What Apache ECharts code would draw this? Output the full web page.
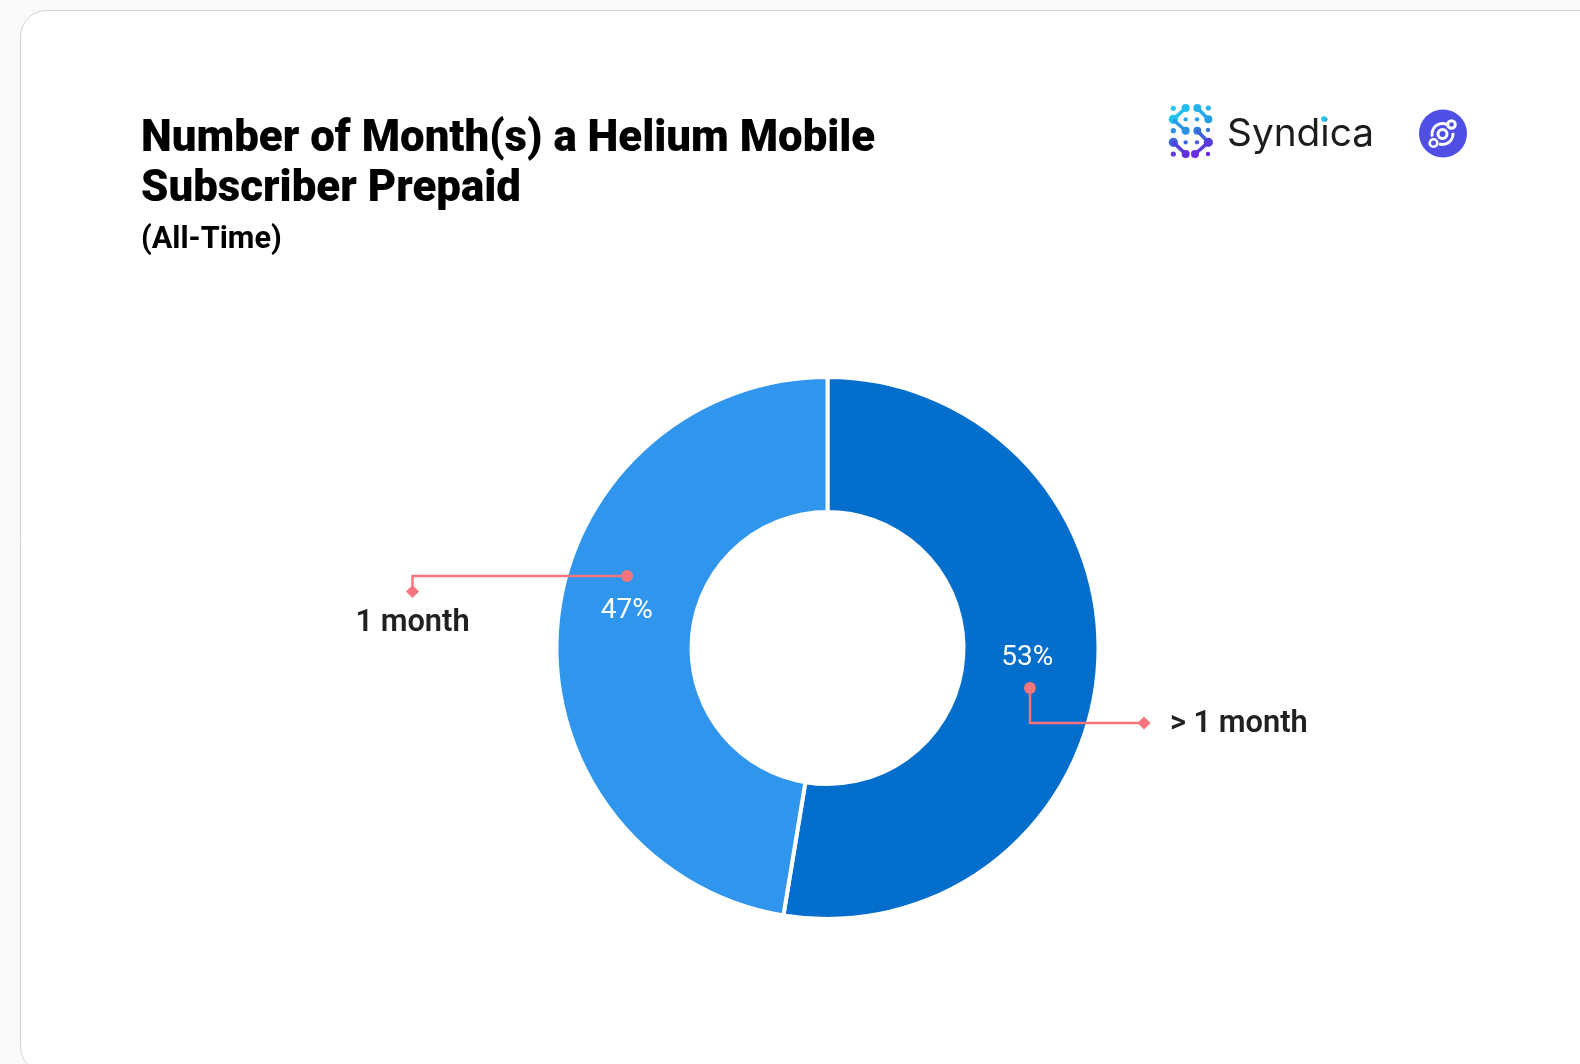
<!DOCTYPE html>
<html><head><meta charset="utf-8">
<style>html,body{margin:0;padding:0;background:#fafafa}#c{width:1580px;height:1064px}</style>
<script src="https://cdn.jsdelivr.net/npm/echarts@6/dist/echarts.min.js"></script>
</head><body><div id="c"></div>
<script>
var categories = ['> 1 month', '1 month'];
var values = [52.6, 47.4];
var percentLabels = ['53%', '47%'];
var colors = ['#036ECB', '#3095EC'];
var F = 'Roboto';
var RED = '#F6757C';
var chart = echarts.init(document.getElementById('c'), null, {renderer:'canvas'});

function lx(z){return 1140+z/3;} function ly(z){return 90+z/3;}
function dot(x,y,r,c){return {type:'circle',shape:{cx:lx(x),cy:ly(y),r:r},style:{fill:c}};}
function seg(pts,c,w){return {type:'polyline',shape:{points:pts.map(function(p){return [lx(p[0]),ly(p[1])];})},style:{stroke:c,lineWidth:w,fill:null,lineCap:'round',lineJoin:'round'}};}
var logo = [
 dot(100,55,2.6,'#29C9F2'),dot(137,54,4,'#22BDF0'),dot(172,54,4,'#22B5EE'),dot(205,54,2.6,'#28B5EE'),
 seg([[137,54],[100,88]],'#22BFF0',3.6), seg([[172,54],[205,88]],'#24ABEC',3.6),
 dot(100,88,4.6,'#1FC0F0'),dot(137,88,2.2,'#2AA5EA'),dot(171,88,2.2,'#2A9EE8'),dot(205,88,4,'#249FE8'),
 dot(100,122,2.6,'#2B90E6'),seg([[137,122],[103,92]],'#2A9AE8',3.4),dot(137,122,4,'#2B92E6'),
 dot(172,122,4,'#2F80E2'),seg([[172,122],[205,157]],'#3F62DC',3.6),dot(204,120,2.2,'#3378E0'),
 dot(100,157,4.6,'#3C68DE'),seg([[100,157],[137,192]],'#5040DC',3.6),dot(137,157,2.2,'#4266DC'),dot(171,157,2.2,'#4A5EDC'),
 dot(205,157,4.6,'#5540DC'),seg([[205,157],[165,192]],'#5F38DE',3.6),
 dot(100,192,2.6,'#5F38DE'),dot(137,192,4,'#6030DE'),dot(165,192,4,'#6A2EE0'),dot(204,192,2.2,'#6A2CE0')
];

function ring(x,y,r,w){return {type:'circle',shape:{cx:x,cy:y,r:r},style:{fill:'rgba(0,0,0,0)',stroke:'#fff',lineWidth:w}};}

var graphic = [
 {type:'rect',z:-10,shape:{x:20.5,y:10.5,width:1700,height:1062,r:26},style:{fill:'#fff',stroke:'#d2d2d2',lineWidth:1}},
 {type:'text',style:{x:141,y:140,text:'Number of Month(s) a Helium Mobile',font:'900 43.8px '+F,fill:'#000',textVerticalAlign:'middle'}},
 {type:'text',style:{x:141,y:190,text:'Subscriber Prepaid',font:'900 43.8px '+F,fill:'#000',textVerticalAlign:'middle'}},
 {type:'text',style:{x:141,y:240,text:'(All-Time)',font:'700 30.7px '+F,fill:'#000',textVerticalAlign:'middle'}},
 {type:'text',style:{x:1227,y:134,text:'Syndica',font:'400 38.8px Inter',fill:'#1c1c1e',textVerticalAlign:'middle'}},
 {type:'circle',shape:{cx:1324,cy:119,r:2.8},style:{fill:'#22C3EE'}},
 {type:'circle',shape:{cx:1443,cy:133.5,r:24},style:{fill:'#4F4FE6'}},
 ring(1442.5,134,4.5,3), ring(1451.5,124.5,3.8,3), ring(1433.5,143,3.8,2.6),
 {type:'arc',shape:{cx:1442.5,cy:134,r:10.5,startAngle:-3.4,endAngle:-1.1},style:{stroke:'#fff',lineWidth:2.8,fill:null}},
 {type:'arc',shape:{cx:1442.5,cy:134,r:10.5,startAngle:-0.1,endAngle:1.9},style:{stroke:'#fff',lineWidth:2.8,fill:null}},
 {type:'polyline',z:20,shape:{points:[[627,576],[412.5,576],[412.5,592]]},style:{stroke:RED,lineWidth:2.4,fill:null}},
 {type:'circle',z:20,shape:{cx:627,cy:576,r:6},style:{fill:RED}},
 {type:'polygon',z:20,shape:{points:[[412.5,585],[419,591.5],[412.5,598],[406,591.5]]},style:{fill:RED}},
 {type:'text',z:20,style:{x:412.5,y:623,text:categories[1],font:'600 30.8px '+F,fill:'#212121',textAlign:'center',textVerticalAlign:'middle'}},
 {type:'polyline',z:20,shape:{points:[[1030,688],[1030,723],[1143,723]]},style:{stroke:RED,lineWidth:2.4,fill:null}},
 {type:'circle',z:20,shape:{cx:1030,cy:688,r:6},style:{fill:RED}},
 {type:'polygon',z:20,shape:{points:[[1144,716.5],[1150.5,723],[1144,729.5],[1137.5,723]]},style:{fill:RED}},
 {type:'text',z:20,style:{x:1170,y:724,text:categories[0],font:'600 30.8px '+F,fill:'#212121',textVerticalAlign:'middle'}}
].concat(logo);

chart.setOption({
 animation:false,
 backgroundColor:'transparent',
 graphic:graphic,
 series:[{
  type:'pie',
  center:[827.5,648],
  radius:[136,271],
  startAngle:90,
  clockwise:true,
  itemStyle:{borderColor:'#fff',borderWidth:4},
  emphasis:{disabled:true},
  labelLine:{show:false},
  label:{show:true,position:'inside',color:'#fff',fontFamily:F,fontSize:28,fontWeight:400},
  data:categories.map(function(n,i){
    return {name:n,value:values[i],itemStyle:{color:colors[i]},
      label:{formatter:percentLabels[i],offset:i===0?[-6,-7]:[5,-20]}};
  })
 }]
});
</script></body></html>
